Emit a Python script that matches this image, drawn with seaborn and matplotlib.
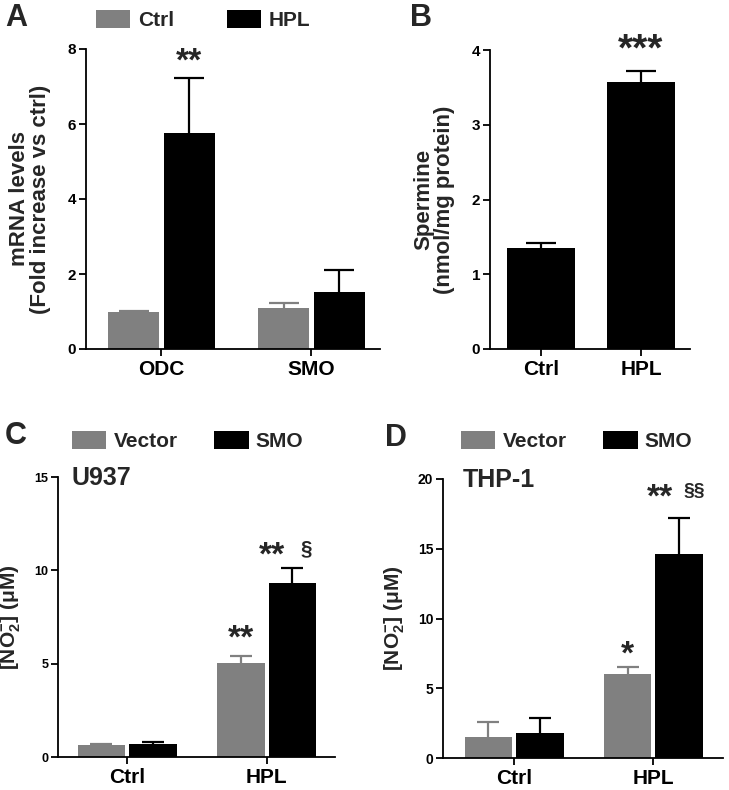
import numpy as np
import pandas as pd
import matplotlib
matplotlib.use("Agg")
import matplotlib.pyplot as plt
import seaborn as sns

# ---------------- data ----------------
a_genes = ["ODC", "SMO"]
a_groups = ["Ctrl", "HPL"]
a_ctrl = [0.98, 1.10]
a_ctrl_err = [0.04, 0.12]
a_hpl = [5.75, 1.53]
a_hpl_err = [1.48, 0.57]

b_cats = ["Ctrl", "HPL"]
b_vals = [1.35, 3.57]
b_err = [0.07, 0.15]

cd_cats = ["Ctrl", "HPL"]
cd_groups = ["Vector", "SMO"]
c_vector = [0.62, 5.05]
c_vector_err = [0.06, 0.35]
c_smo = [0.72, 9.30]
c_smo_err = [0.06, 0.80]
d_vector = [1.50, 6.05]
d_vector_err = [1.05, 0.45]
d_smo = [1.80, 14.65]
d_smo_err = [1.10, 2.55]

GRAY = "#808080"
BLACK = "#000000"

sns.set_theme(style="ticks")
plt.rcParams["font.family"] = ["Liberation Sans", "DejaVu Sans"]
plt.rcParams["font.weight"] = "bold"
plt.rcParams["axes.labelweight"] = "bold"
plt.rcParams["mathtext.fontset"] = "custom"
plt.rcParams["mathtext.rm"] = "Liberation Sans:bold"
plt.rcParams["mathtext.bf"] = "Liberation Sans:bold"
plt.rcParams["mathtext.it"] = "Liberation Sans:bold"

fig = plt.figure(figsize=(7.29, 7.90), dpi=100)

def fx(px):
    return px / 729.0

def fy(px):
    return 1 - px / 790.0

axA = fig.add_axes([fx(86), fy(349), fx(380 - 86), fy(49) - fy(349)])
axB = fig.add_axes([fx(490), fy(349), fx(690 - 490), fy(50) - fy(349)])
axC = fig.add_axes([fx(58), fy(757), fx(335 - 58), fy(477) - fy(757)])
axD = fig.add_axes([fx(443), fy(758), fx(723 - 443), fy(479) - fy(758)])


def upper_err(ax, xs, vals, errs, color, capsize):
    eb = ax.errorbar(xs, vals, yerr=[np.zeros(len(xs)), errs], fmt="none",
                     ecolor=color, elinewidth=1.6, capsize=capsize,
                     capthick=1.6, zorder=1)
    caps = eb.lines[1]
    if len(caps) > 1:
        caps[0].set_visible(False)


def grouped(ax, cats, groups, v1, e1, v2, e2, capsize):
    df = pd.DataFrame({
        "cat": cats + cats,
        "grp": [groups[0]] * len(cats) + [groups[1]] * len(cats),
        "val": list(v1) + list(v2),
    })
    sns.barplot(data=df, x="cat", y="val", hue="grp", hue_order=groups,
                palette=[GRAY, BLACK], errorbar=None, width=0.74, gap=0.08,
                saturation=1, legend=False, ax=ax, linewidth=0)
    bars = list(ax.containers)
    errs = [e1, e2]
    vals = [v1, v2]
    cols = [GRAY, BLACK]
    centers = []
    for k, cont in enumerate(bars):
        xs = [p.get_x() + p.get_width() / 2 for p in cont.patches]
        centers.append(xs)
        upper_err(ax, xs, vals[k], errs[k], cols[k], capsize)
    return centers, bars


def style(ax, ylim, yticks, xlim, yfs):
    ax.set_ylim(*ylim)
    ax.set_yticks(yticks)
    ax.set_xlim(*xlim)
    sns.despine(ax=ax)
    for s in ["left", "bottom"]:
        ax.spines[s].set_linewidth(1.3)
        ax.spines[s].set_color("black")
    ax.tick_params(axis="y", length=5, width=1.3, labelsize=yfs, pad=2, colors="black")
    ax.tick_params(axis="x", length=5, width=1.3, labelsize=15, pad=3, colors="black")
    for lab in ax.get_xticklabels() + ax.get_yticklabels():
        lab.set_fontweight("bold")
    ax.set_xlabel("")


# ---------------- Panel A ----------------
cA, barsA = grouped(axA, a_genes, a_groups, a_ctrl, a_ctrl_err, a_hpl, a_hpl_err, 10.5)
style(axA, (0, 8), [0, 2, 4, 6, 8], (-0.503, 1.457), 11)
axA.set_ylabel("mRNA levels\n(Fold increase vs ctrl)", fontsize=16,
               fontweight="bold", labelpad=12, linespacing=1.0)
axA.text(cA[1][0], 7.66, "**", ha="center", va="center", fontsize=24,
         fontweight="bold", clip_on=False)
axA.legend(handles=barsA, labels=a_groups, ncol=2, frameon=False,
           loc="center left", bbox_to_anchor=(fx(96), fy(20)),
           bbox_transform=fig.transFigure, fontsize=15,
           handlelength=1.65, handleheight=0.95, handletextpad=0.35,
           columnspacing=2.55, borderaxespad=0, borderpad=0)

# ---------------- Panel B ----------------
sns.barplot(x=b_cats, y=b_vals, color=BLACK, saturation=1, width=0.68,
            errorbar=None, ax=axB, linewidth=0)
bx = [p.get_x() + p.get_width() / 2 for p in axB.patches]
upper_err(axB, bx, b_vals, b_err, BLACK, 11)
style(axB, (0, 4), [0, 1, 2, 3, 4], (-0.51, 1.49), 11)
axB.set_ylabel("Spermine\n(nmol/mg protein)", fontsize=16, fontweight="bold",
               labelpad=12, linespacing=1.0)
axB.text(bx[1], 4.0, "***", ha="center", va="center", fontsize=28,
         fontweight="bold", clip_on=False)

# ---------------- Panel C ----------------
cC, barsC = grouped(axC, cd_cats, cd_groups, c_vector, c_vector_err, c_smo, c_smo_err, 8)
style(axC, (0, 15), [0, 5, 10, 15], (-0.495, 1.49), 9)
axC.set_ylabel("[NO$_{2}^{-}$] (μM)", fontsize=15, fontweight="bold", labelpad=8)
axC.text(cC[0][1], 6.3, "**", ha="center", va="center", fontsize=24, fontweight="bold")
axC.text(cC[1][1] - 0.15, 10.75, "**", ha="center", va="center", fontsize=24, fontweight="bold")
axC.text(cC[1][1] + 0.10, 11.15, "§", ha="center", va="center", fontsize=15, fontweight="bold")
axC.text(0.05, 0.995, "U937", transform=axC.transAxes, ha="left", va="center",
         fontsize=18, fontweight="bold")
axC.legend(handles=barsC, labels=cd_groups, ncol=2, frameon=False,
           loc="center left", bbox_to_anchor=(fx(72), fy(441)),
           bbox_transform=fig.transFigure, fontsize=15,
           handlelength=1.65, handleheight=0.95, handletextpad=0.35,
           columnspacing=1.75, borderaxespad=0, borderpad=0)

# ---------------- Panel D ----------------
cD, barsD = grouped(axD, cd_cats, cd_groups, d_vector, d_vector_err, d_smo, d_smo_err, 8)
style(axD, (0, 20), [0, 5, 10, 15, 20], (-0.51, 1.50), 10)
axD.set_ylabel("[NO$_{2}^{-}$] (μM)", fontsize=15, fontweight="bold", labelpad=8)
axD.text(cD[0][1], 7.4, "*", ha="center", va="center", fontsize=24, fontweight="bold")
axD.text(cD[1][1] - 0.14, 18.6, "**", ha="center", va="center", fontsize=24, fontweight="bold")
axD.text(cD[1][1] + 0.11, 19.1, "§§", ha="center", va="center", fontsize=14, fontweight="bold")
axD.text(0.07, 0.995, "THP-1", transform=axD.transAxes, ha="left", va="center",
         fontsize=18, fontweight="bold")
axD.legend(handles=barsD, labels=cd_groups, ncol=2, frameon=False,
           loc="center left", bbox_to_anchor=(fx(461), fy(441)),
           bbox_transform=fig.transFigure, fontsize=15,
           handlelength=1.65, handleheight=0.95, handletextpad=0.35,
           columnspacing=1.75, borderaxespad=0, borderpad=0)

# panel letters
for letter, x, y in [("A", 5, 18), ("B", 410, 18), ("C", 5, 436), ("D", 385, 438)]:
    fig.text(fx(x), fy(y), letter, ha="left", va="center", fontsize=22,
             fontweight="bold")

fig.savefig("out.png", dpi=100)
